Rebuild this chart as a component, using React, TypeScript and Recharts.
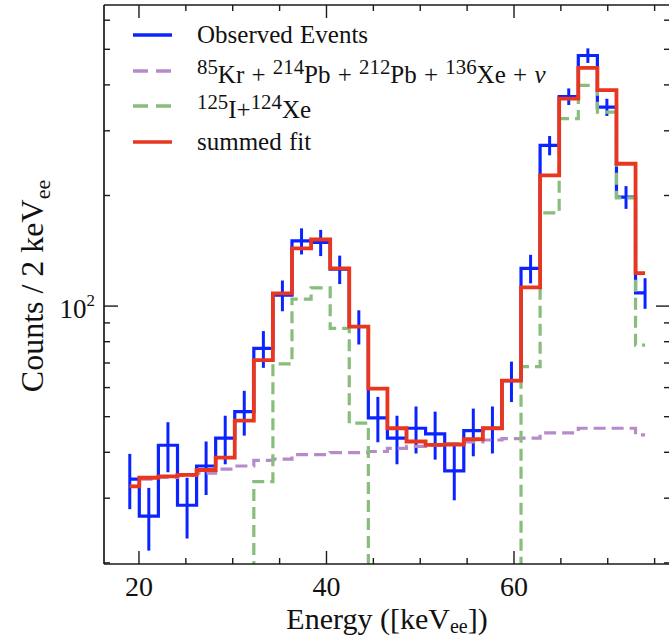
import { LineChart, Line, XAxis, YAxis, ErrorBar, Legend } from 'recharts'

// bin centres (keV), 2 keV bins
const centers = [19.02, 21.05, 23.09, 25.13, 27.16, 29.2, 31.23, 33.27, 35.3, 37.34, 39.38, 41.41, 43.45, 45.48, 47.52, 49.55, 51.59, 53.63, 55.66, 57.7, 59.73, 61.77, 63.8, 65.84, 67.88, 69.91, 71.95, 73.98]

const observed = [33.8, 26.8, 41.8, 28.7, 36.7, 43.7, 51.6, 76.7, 107.1, 150.5, 149, 126, 88, 49.6, 43.7, 46.5, 44.9, 35.6, 45.8, 46.5, 62.7, 126.6, 273.8, 372, 481, 348, 198, 108.7]
const observedErr = [5.8, 5.2, 6.5, 5.4, 6.1, 6.6, 7.2, 8.8, 10.3, 12.3, 12.2, 11.2, 9.4, 7.0, 6.6, 6.8, 6.7, 6.0, 6.8, 6.8, 7.9, 11.3, 16.5, 19.3, 21.9, 18.7, 14.1, 10.4]
const background = [32.3, 33.8, 34.2, 34.6, 35.1, 36.0, 36.7, 38.0, 38.3, 39.4, 39.4, 39.9, 39.9, 40.2, 41.0, 41.5, 41.8, 42.2, 42.7, 43.2, 43.6, 43.7, 45.2, 45.2, 46.5, 46.5, 46.5, 44.6]
const iodine = [0.4, 0.6, 0.9, 1.3, 1.8, 2.7, 12, 33.3, 69.6, 104.5, 112.1, 87, 48, 18, 5.2, 1.2, 0.5, 0.4, 0.6, 3.3, 18, 68.4, 179.3, 323.6, 398.7, 337.3, 197, 78.3]
const summed = [32.3, 34.1, 34.4, 34.7, 35.8, 38.7, 48.8, 71.3, 108.3, 143.5, 151.8, 126.6, 87.9, 59.6, 46.5, 42.8, 41.9, 42.0, 43.4, 46.5, 62.7, 112.4, 227, 367, 445, 387, 244, 123]

const xTicks = [20, 25, 30, 35, 40, 45, 50, 55, 60, 65, 70, 75]
const yTicks = [20, 30, 40, 50, 60, 70, 80, 90, 100, 200, 300, 400, 500, 600]

const BLUE = '#0b24ff'
const RED = '#e8361f'
const PURPLE = '#b78bc9'
const GREEN = '#88bd7c'
const INK = '#1a1a1a'
const SERIF = '"Liberation Serif", "DejaVu Serif", serif'

const data = centers.map((e, i) => ({
  e,
  observed: observed[i],
  err: observedErr[i],
  bkg: background[i],
  iodine: iodine[i],
  fit: summed[i],
}))

const sep = ' + '
const legendRows = [
  { color: BLUE, dash: undefined, label: <>Observed Events</> },
  {
    color: PURPLE, dash: '15 8', label: (
      <><sup>85</sup>Kr{sep}<sup>214</sup>Pb{sep}<sup>212</sup>Pb{sep}<sup>136</sup>Xe{sep}<i>v</i></>
    ),
  },
  { color: GREEN, dash: '15 8', label: <><sup>125</sup>I+<sup>124</sup>Xe</> },
  { color: RED, dash: undefined, label: <>summed fit</> },
]

function LegendBox() {
  return (
    <div style={{ position: 'relative', fontFamily: SERIF, fontSize: 25, color: '#111' }}>
      {legendRows.map((r, i) => (
        <div key={i} style={{ position: 'absolute', left: 0, top: i * 35.7, height: 30, display: 'flex', alignItems: 'center', whiteSpace: 'nowrap' }}>
          <svg width={39} height={8} style={{ display: 'block' }}>
            <line x1={0} y1={4} x2={39} y2={4} stroke={r.color} strokeWidth={3.5} strokeDasharray={r.dash} />
          </svg>
          <span style={{ marginLeft: 25, lineHeight: '30px', wordSpacing: 1 }}>{r.label}</span>
        </div>
      ))}
    </div>
  )
}

function BottomTick(props: any) {
  const { x, y, payload } = props
  const major = payload.value % 20 === 0
  return (
    <g>
      <line x1={x} y1={y} x2={x} y2={y - (major ? 13 : 6)} stroke={INK} strokeWidth={1.4} />
      {major && (
        <text x={x} y={y + 32} textAnchor="middle" fontSize={28} fontFamily={SERIF} fill="#111">
          {payload.value}
        </text>
      )}
    </g>
  )
}

function TopTick(props: any) {
  const { x, y, payload } = props
  const major = payload.value % 20 === 0
  return <line x1={x} y1={y} x2={x} y2={y + (major ? 13 : 6)} stroke={INK} strokeWidth={1.4} />
}

function LeftTick(props: any) {
  const { x, y, payload } = props
  const major = payload.value === 100
  return (
    <g>
      <line x1={x} y1={y} x2={x + (major ? 14 : 6)} y2={y} stroke={INK} strokeWidth={1.4} />
      {major && (
        <text x={x - 9} y={y + 12} textAnchor="end" fontSize={27} fontFamily={SERIF} fill="#111">
          10<tspan dy={-12} fontSize={17}>2</tspan>
        </text>
      )}
    </g>
  )
}

function RightTick(props: any) {
  const { x, y, payload } = props
  const major = payload.value === 100
  return <line x1={x} y1={y} x2={x - (major ? 14 : 6)} y2={y} stroke={INK} strokeWidth={1.4} />
}

export default function App() {
  const axisLine = { stroke: INK, strokeWidth: 1.7 }
  return (
    <div style={{ position: 'absolute', left: 0, top: 0, width: 669, height: 639, overflow: 'hidden', background: '#fff' }}>
      <LineChart width={680} height={639} data={data} margin={{ top: 4, right: 9, bottom: 74, left: 103 }}>
        <XAxis xAxisId="b" dataKey="e" type="number" domain={[16.27, 76.64]} allowDataOverflow ticks={xTicks} interval={0}
          height={1} tickSize={0} tickMargin={0} axisLine={axisLine} tickLine={false} tick={<BottomTick />} />
        <XAxis xAxisId="t" orientation="top" dataKey="e" type="number" domain={[16.27, 76.64]} allowDataOverflow ticks={xTicks} interval={0}
          height={1} tickSize={0} tickMargin={0} axisLine={axisLine} tickLine={false} tick={<TopTick />} />
        <YAxis yAxisId="l" scale="log" type="number" domain={[19.86, 660]} allowDataOverflow ticks={yTicks} interval={0}
          width={1} tickSize={0} tickMargin={0} axisLine={axisLine} tickLine={false} tick={<LeftTick />} />
        <YAxis yAxisId="r" orientation="right" scale="log" type="number" domain={[19.86, 660]} allowDataOverflow ticks={yTicks} interval={0}
          width={1} tickSize={0} tickMargin={0} axisLine={axisLine} tickLine={false} tick={<RightTick />} />
        <Legend layout="vertical" align="center" verticalAlign="middle" content={<LegendBox />}
          wrapperStyle={{ left: 133, top: 20, width: 520, height: 150 }} />
        <Line xAxisId="b" yAxisId="l" type="step" dataKey="observed" name="Observed Events" stroke={BLUE} strokeWidth={3.2} dot={false} isAnimationActive={false}>
          <ErrorBar dataKey="err" direction="y" width={0} stroke={BLUE} strokeWidth={3} />
        </Line>
        <Line xAxisId="b" yAxisId="l" type="step" dataKey="bkg" name="background" stroke={PURPLE} strokeWidth={3.2} strokeDasharray="12 6" dot={false} isAnimationActive={false} />
        <Line xAxisId="b" yAxisId="l" type="step" dataKey="iodine" name="125I+124Xe" stroke={GREEN} strokeWidth={3.2} strokeDasharray="12 6" dot={false} isAnimationActive={false} />
        <Line xAxisId="b" yAxisId="l" type="step" dataKey="fit" name="summed fit" stroke={RED} strokeWidth={3.8} dot={false} isAnimationActive={false} />
      </LineChart>
      <svg width={669} height={639} style={{ position: 'absolute', left: 0, top: 0, pointerEvents: 'none' }}>
        <text transform="translate(43,286) rotate(-90)" textAnchor="middle" fontSize={32} fontFamily={SERIF} fill="#111">
          Counts / 2 keV<tspan dy={7} fontSize={22}>ee</tspan>
        </text>
        <text x={387} y={629} textAnchor="middle" fontSize={30} fontFamily={SERIF} fill="#111">
          Energy ([keV<tspan dy={4} fontSize={20}>ee</tspan><tspan dy={-4}>])</tspan>
        </text>
      </svg>
    </div>
  )
}
